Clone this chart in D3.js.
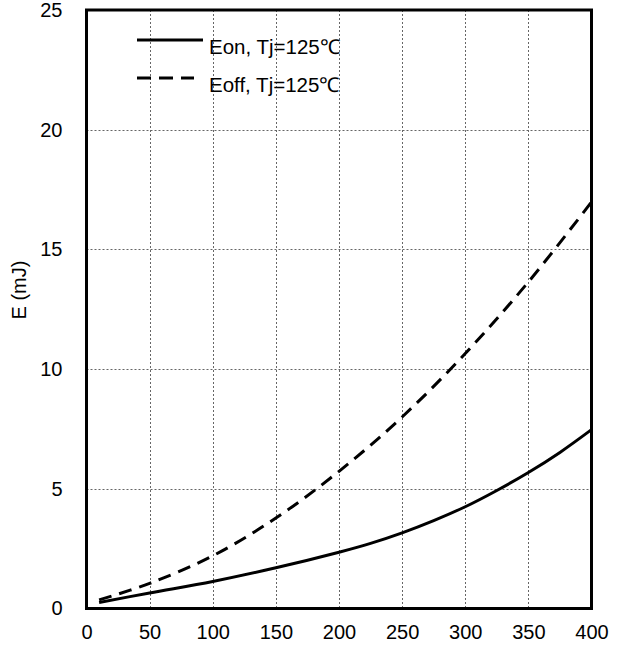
<!DOCTYPE html>
<html>
<head>
<meta charset="utf-8">
<script src="https://cdn.jsdelivr.net/npm/d3@7"></script>
<style>
  html, body { margin: 0; padding: 0; background: #fff; }
  svg { display: block; }
  text { font-family: "Liberation Sans", Arial, sans-serif; fill: #000; }
</style>
</head>
<body>
<svg id="chart" width="618" height="646"></svg>
<script>
const eonX = [10, 50, 100, 150, 200, 225, 250, 275, 300, 325, 350, 375, 400];
const eonValues = [0.25, 0.65, 1.13, 1.70, 2.35, 2.72, 3.16, 3.67, 4.25, 4.93, 5.68, 6.52, 7.47];
const eoffX = [10, 50, 100, 150, 200, 250, 300, 350, 400];
const eoffValues = [0.36, 1.05, 2.20, 3.78, 5.73, 8.0, 10.65, 13.64, 16.98];
const xTicks = [0, 50, 100, 150, 200, 250, 300, 350, 400];
const yTicks = [0, 5, 10, 15, 20, 25];
const seriesNames = ["Eon, Tj=125\u2103", "Eoff, Tj=125\u2103"];
const yTitle = "E (mJ)";

(function () {
const svg = d3.select("#chart");
const pL = 86.5, pR = 591.5, pT = 10, pB = 608.5;
const x = d3.scaleLinear().domain([0, 400]).range([pL, pR]);
const y = d3.scaleLinear().domain([0, 25]).range([pB, pT]);
const fs = 20;

// grid
const grid = svg.append("g").attr("stroke", "#666").attr("stroke-width", 1).attr("stroke-dasharray", "2,2");
grid.selectAll(".vx").data(xTicks.slice(1, -1)).join("line")
  .attr("x1", d => Math.round(x(d)) + 0.5).attr("x2", d => Math.round(x(d)) + 0.5)
  .attr("y1", pT).attr("y2", pB);
grid.selectAll(".hy").data(yTicks.slice(1, -1)).join("line")
  .attr("y1", d => Math.round(y(d)) + 0.5).attr("y2", d => Math.round(y(d)) + 0.5)
  .attr("x1", pL).attr("x2", pR);

// axes (labels only)
const xAxis = d3.axisBottom(x).tickValues(xTicks).tickSize(0).tickPadding(16);
const gx = svg.append("g").attr("transform", `translate(0,${pB})`).call(xAxis);
gx.select(".domain").remove();
gx.selectAll("text").attr("font-size", fs).attr("font-family", "Liberation Sans, Arial, sans-serif").attr("fill", "#000");

const yAxis = d3.axisLeft(y).tickValues(yTicks).tickSize(0).tickPadding(24);
const gy = svg.append("g").attr("transform", `translate(${pL},0)`).call(yAxis);
gy.select(".domain").remove();
gy.selectAll("text").attr("font-size", fs).attr("font-family", "Liberation Sans, Arial, sans-serif").attr("fill", "#000");

svg.append("text")
  .attr("transform", `translate(26,290) rotate(-90)`)
  .attr("text-anchor", "middle")
  .attr("font-size", fs)
  .text(yTitle);

// curves
const line = d3.line().x(d => x(d[0])).y(d => y(d[1])).curve(d3.curveCatmullRom.alpha(0.5));
svg.append("path").datum(eonX.map((v, i) => [v, eonValues[i]]))
  .attr("d", line).attr("fill", "none").attr("stroke", "#000").attr("stroke-width", 3);
svg.append("path").datum(eoffX.map((v, i) => [v, eoffValues[i]]))
  .attr("d", line).attr("fill", "none").attr("stroke", "#000").attr("stroke-width", 3)
  .attr("stroke-dasharray", "13,8");

// frame
svg.append("rect").attr("x", pL).attr("y", pT).attr("width", pR - pL).attr("height", pB - pT)
  .attr("fill", "none").attr("stroke", "#000").attr("stroke-width", 3);

// legend
const legend = svg.append("g");
const legendRows = [
  { name: seriesNames[0], dash: null, ly: 40 },
  { name: seriesNames[1], dash: "14,8", ly: 78 }
];
legendRows.forEach(r => {
  const l = legend.append("line").attr("x1", 137).attr("x2", 203).attr("y1", r.ly).attr("y2", r.ly)
    .attr("stroke", "#000").attr("stroke-width", 3);
  if (r.dash) l.attr("stroke-dasharray", r.dash).attr("x2", 194);
  legend.append("text").attr("x", 209).attr("y", r.ly + 14).attr("font-size", 20.5).text(r.name);
});
})();
</script>
</body>
</html>
